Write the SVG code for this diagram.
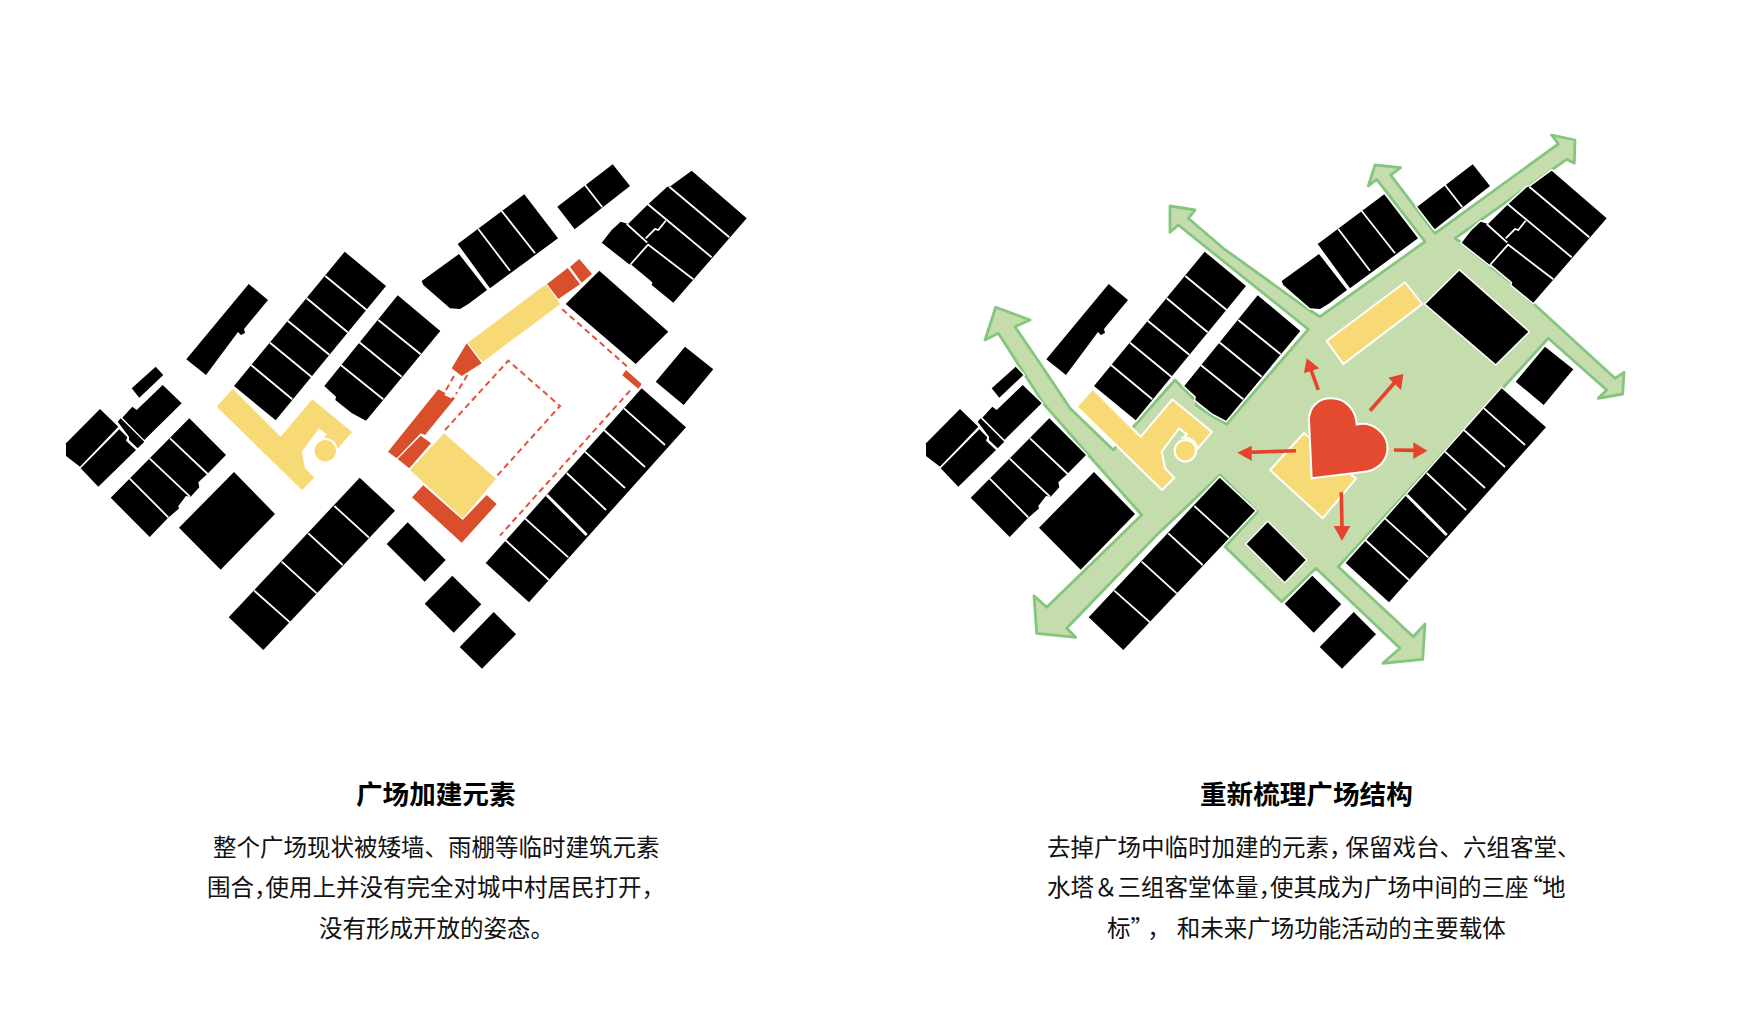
<svg xmlns="http://www.w3.org/2000/svg" width="1750" height="1032" viewBox="0 0 1750 1032">
<style>
.b{fill:#000}
.d{fill:none;stroke:#fff;stroke-width:1.8}
.y{fill:#f7da75}
.yw{fill:#f7da75;stroke:#fff;stroke-width:2}
.r{fill:#d94f2b}
.ds{fill:none;stroke:#e5503a;stroke-width:2;stroke-dasharray:6 4}
.ar{fill:none;stroke:#e5432d;stroke-width:3.6}
.ah{fill:#e5432d}
.t{font-family:"Noto Sans CJK SC","Liberation Sans",sans-serif;fill:#111;font-size:23.5px}
.h{font-family:"Noto Sans CJK SC","Liberation Sans",sans-serif;fill:#000;font-size:26.6px;font-weight:700}
.halo{stroke:#fff;stroke-width:3;paint-order:stroke;stroke-linejoin:miter}
</style>
<defs>
<g id="blocks">
<polygon class="b" points="248.7,284 268,300 244,329 245,333 241,335 238,332 206,375 186.3,359.3"/>
<polygon class="b" points="344.7,251.7 386,286 275.7,420.3 234,386"/>
<polygon class="b" points="397.7,295.3 440.3,331 366,420.7 352,413.3 335.3,400 336,396.7 324.3,386"/>
<polygon class="b" points="155.7,366.7 163.3,375 139.3,397.7 131.7,388.3"/>
<polygon class="b" points="162.7,385 181.7,403.3 144.3,440 122.3,417.7 132.3,406.7 136.7,410"/>
<polygon class="b" points="117.7,421.7 120.7,418.3 144.3,441.7 137.7,448.3 129,440 129,436.7"/>
<polygon class="b" points="100,409 118.3,426.7 80,466.7 66,456 66,443.3"/>
<polygon class="b" points="119.3,429.3 127.3,437.3 126,440.7 136,450 98.3,486.7 80.7,468.3"/>
<polygon class="b" points="189.3,418.3 226,455 207.3,474 198.3,482.3 199.3,487.3 190.7,496.7 186,496 178.3,506 179,508.5 167.7,518.3 149.7,537 110.7,497.7"/>
<polygon class="b" points="234,472 275,514 220.7,569.7 179,527.7"/>
<polygon class="b" points="359.7,477.7 395,510.7 263.3,650 228.7,617.3"/>
<polygon class="b" points="407.7,522.3 445.7,560 424.7,581.7 386.7,544"/>
<polygon class="b" points="452.3,575.7 481.3,604.3 453.7,632.7 424.7,603.7"/>
<polygon class="b" points="493.7,612 516,634.3 482,668.7 459.7,647"/>
<polygon class="b" points="641.7,388.3 686,427.3 529,602.3 485.7,563"/>
<polygon class="b" points="524.3,194.3 558,238.3 490,288.3 457.7,244"/>
<polygon class="b" points="459,254 487,290 468.3,304 460,309 450,308.3 423.3,285 421.7,281"/>
<polygon class="b" points="612.7,164.3 630,186 574.7,229.3 557.3,206.7"/>
<polygon class="b" points="691.7,170.7 746.7,218.3 673.3,302.7 651.7,285 652.3,282.3 631.7,265 630,265 601.7,242.7 611.7,230 620.7,221.7 628,224 647.3,205 666.7,187.3 670.7,186"/>
<polygon class="b" points="599.3,270.7 668.3,331.7 635.7,364 565.7,304"/>
<polygon class="b" points="685,346.7 713.3,369.3 683.7,405 655.7,381.7"/>
<g class="d">
<path d="M325.3,276 366.7,310M306.7,298.3 347.7,332.3M287.7,320.7 329.3,354.7M270,342.7 311.7,377M251,365 292.3,399.3"/>
<path d="M378.3,320 420.7,354.3M359.3,342.3 401.7,376.7M340.7,365 383.3,399.3"/>
<path d="M170,438.3 207.7,474M149.7,458.7 190,496.7M129.7,478.7 168.3,517.3"/>
<path d="M334.3,506 369,537.7M308.3,533.3 342.7,565M281.7,561.7 316.7,593.3M254.3,590.7 290,622.3"/>
<path d="M505.3,540 549,580M525,518.3 568.3,557.3M566.7,473 606,510M585,451.7 625,488M604,430 645,467M624,408.3 665,445"/>
<path d="M546.7,495 586.7,535" stroke-width="3"/>
<path d="M478.3,229 510,270.7M501.7,211 535,253.3M585,185 602.3,207.3"/>
<path d="M669.3,186.7 729.3,237.3M646.7,203.3 711.7,257.3M647.7,244.3 693.3,279.3M626.7,224 647.3,242.7M630,265 648.3,244.3M645.7,238.3 655,229 658.3,230 665.7,220.7"/>
</g>
</g>
<path id="tower" d="M232.7,388.7 280.7,436.7 312.3,399.3 352,432 337.5,449 A13.5,13.5 0 0 0 323,437.5 L327,434.5 319,428.3 301.7,451.7 305,468.3 314.3,477.7 302,490 216.7,406.7Z"/>
</defs>
<g id="plan-existing">
<use href="#blocks"/>
<g id="added-elements">
<polygon class="y" points="546,284.3 560.3,304 482.7,362 467.7,342.7"/>
<polygon class="r" points="547,284 567.7,268 580,284.3 558.3,299"/>
<polygon class="r" points="579.3,259 592,274 581.7,282.7 570,266.7"/>
<polygon class="r" points="466.7,343.3 481.7,363.3 461.7,376 451.7,368.3"/>
<polygon class="r" points="626,370 641.7,384 638.3,388.7 622.3,375.3"/>
<polygon class="r" points="438.3,389.3 455,398.3 425,435 420.7,433.3 396.7,458.3 388,451.7"/>
<polygon class="r" points="420.7,435.7 431,443.3 409.3,468.3 397.7,459"/>
<path d="M445,394 452,397.5" stroke="#fff" stroke-width="2.5" fill="none"/>
<polygon class="y" points="444,433.3 496,478.7 462.7,518.3 410,470"/>
<polygon class="r" points="423.3,485.3 462.7,520 486.7,495 496.7,504 461.7,542.7 412,497.3"/>
<use href="#tower" class="y"/>
<circle class="y" cx="325.3" cy="450.7" r="10.7"/>
<path class="ds" d="M562.3,309.3 630,369M630,390.7 500,535.7M445,430 508.3,360.7 560,406 495.7,477.3M467.3,375 456,394M454,376 445,391.7"/>
</g>
</g>
<g id="plan-proposed">
<polygon id="green-space" fill="#c5dcac" stroke="#84c67d" stroke-width="2.8" stroke-linejoin="round" points="995.7,307.3 1030,320 1015,326.7 1043.3,368.3 1070,408.3 1113.3,450 1135,425 1175,380 1197,402 1196,405 1212,416 1226.7,424 1308.3,329.3 1178.3,225 1170,232.3 1170,206 1195,210 1188.3,218.3 1223.3,248.3 1306.7,308.3 1320,316.7 1425,241.7 1376.7,179.3 1368.3,186 1375,165 1400.7,167.7 1390.7,175 1435,233.3 1558.3,144 1551.7,135 1575,140 1574.3,163.3 1566.7,159.3 1455,238.3 1460,241.7 1511.7,283.3 1535,305 1615,378.3 1624,372.3 1622.7,394 1598.3,398.3 1606.7,390 1548.3,338.3 1505,385.7 1338.3,566.7 1413.3,636.7 1425,624 1422.7,659.3 1382.7,663.3 1400,648.3 1316,568.3 1281.7,601.7 1225,546.7 1257.3,511.7 1220,475 1156.7,535 1066.7,628.3 1075.7,637.3 1036.7,633.3 1034,595.7 1046.7,607.3 1141.7,515 1090,456.7 1043.3,403.3 998.3,333.3 985,340"/>
<use href="#blocks" x="860" class="halo"/>
<use href="#tower" x="860" class="yw"/>
<circle class="yw" cx="1185.3" cy="450.7" r="10.7"/>
<polygon class="yw" points="1405,282.3 1422.3,304 1343.3,364 1326.7,341"/>
<polygon class="yw" points="1304,433 1356,478.7 1322.7,518.3 1270,470"/>
<path id="heart" fill="#e34a30" stroke="#fff" stroke-width="2" d="M1311.7,478.3 L1309,420 C1309,406 1319,398.3 1331,398.3 C1346,398.3 1356,410 1356.7,424.5 C1372,421 1388,433 1387.5,449 C1387,462 1376,471 1363,472 Z"/>
<g id="arrows">
<path class="ar" d="M1318.3,390 1310,367M1370,410.7 1396,381M1296,450.7 1248,452.4M1394,450 1416,450.4M1341.3,492.3 1342,528"/>
<polygon class="ah" points="1306.7,358.3 1319.3,368.3 1304,373.3"/>
<polygon class="ah" points="1403.3,374 1401,390 1388.3,377.7"/>
<polygon class="ah" points="1237.3,452.7 1251.7,445.7 1251.7,460.7"/>
<polygon class="ah" points="1427.3,450.7 1413.3,442.3 1413.3,459"/>
<polygon class="ah" points="1342,540.7 1333.7,526 1350.3,526"/>
</g>
</g>
<g id="caption-left">
<text class="h" x="356" y="803.5">广场加建元素</text>
<text class="t" x="213" y="855.5">整个广场现状被矮墙、雨棚等临时建筑元素</text>
<text class="t" x="207" y="896" dx="0 0 0 -12">围合，使用上并没有完全对城中村居民打开，</text>
<text class="t" x="319" y="937">没有形成开放的姿态。</text>
</g>
<g id="caption-right">
<text class="h" x="1200" y="803.5">重新梳理广场结构</text>
<text class="t" x="1047" y="855.5" dx="0 0 0 0 0 0 0 0 0 0 0 0 0 -7">去掉广场中临时加建的元素，保留戏台、六组客堂、</text>
<text class="t" x="1047" y="896" dx="0 0 0 0 0 0 0 0 0 0 -12 0 0 0 0 0 0 0 0 0 0 -9 -1">水塔＆三组客堂体量，使其成为广场中间的三座“地</text>
<text class="t" x="1107" y="937" dx="0 0 5 6">标”，和未来广场功能活动的主要载体</text>
</g>
</svg>
